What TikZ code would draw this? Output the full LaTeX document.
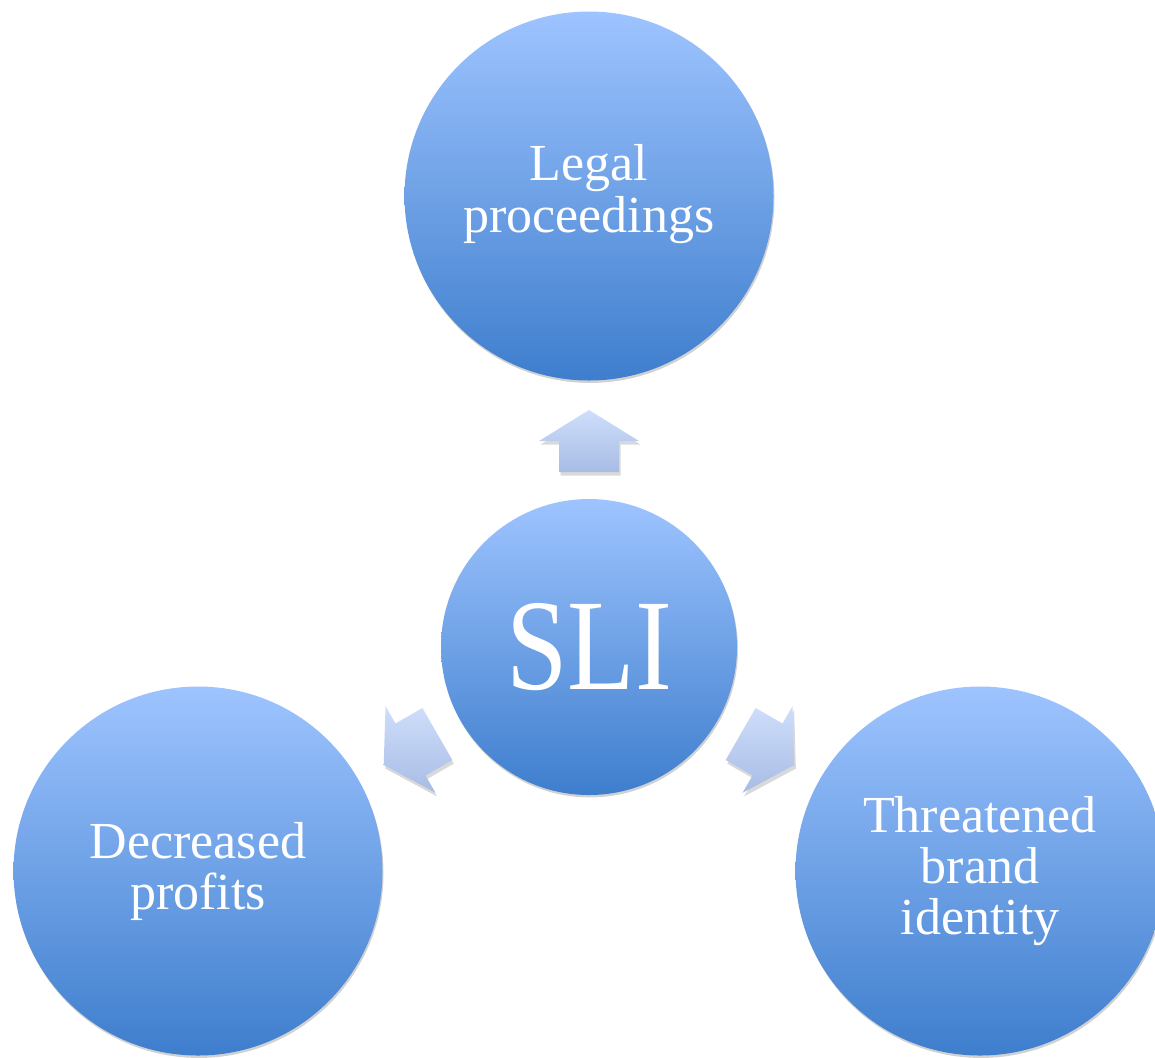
\documentclass[tikz,border=0pt]{standalone}
\usepackage{fontspec}
\setmainfont{Liberation Serif}
\usetikzlibrary{shadows}
\definecolor{ctop}{RGB}{158,196,255}
\definecolor{cbot}{RGB}{62,126,205}
\definecolor{atop}{RGB}{206,222,251}
\definecolor{abot}{RGB}{168,188,228}
\begin{document}
\begin{tikzpicture}[x=0.5pt,y=-0.5pt,
  bubble/.style={circle, top color=ctop, bottom color=cbot, text=white, align=center,
    inner sep=0pt, font=\fontsize{26pt}{25.5pt}\selectfont,
    drop shadow={shadow xshift=0.5pt, shadow yshift=-1.2pt, opacity=0.18, fill=black}},
  bigbubble/.style={bubble, minimum size=184.5pt},
  hubbubble/.style={bubble, minimum size=148pt},
  blockarrow/.style={top color=atop, bottom color=abot, draw=none,
    drop shadow={shadow xshift=0.8pt, shadow yshift=-1.8pt, opacity=0.15, fill=black}}]
\clip (0,0) rectangle (1155,1057);
\useasboundingbox (0,0) rectangle (1155,1057);
% block arrows
\path[blockarrow] (589,410) -- (639,441) -- (619,441) -- (619,472) -- (559,472) -- (559,441) -- (539,441) -- cycle;
\path[blockarrow] (383.7,765) -- (435.5,792.8) -- (425.5,775.5) -- (452.3,760) -- (422.4,708) -- (395.5,723.5) -- (385.5,706.2) -- cycle;
\path[blockarrow] (794.3,765) -- (742.5,792.8) -- (752.5,775.5) -- (725.7,760) -- (755.6,708) -- (782.5,723.5) -- (792.5,706.2) -- cycle;
% circles
\node[bigbubble] (legal) at (589,196) {\raisebox{-1pt}{\begin{tabular}{@{}c@{}}Legal\\proceedings\end{tabular}}};
\node[hubbubble] (sli) at (589,647) {\fontsize{65pt}{65pt}\selectfont\scalebox{0.85}[1]{SLI}};
\node[bigbubble] (profits) at (198,871) {Decreased\\profits};
\node[bigbubble] (brand) at (980,871) {Threatened\\brand\\identity};
\end{tikzpicture}
\end{document}
